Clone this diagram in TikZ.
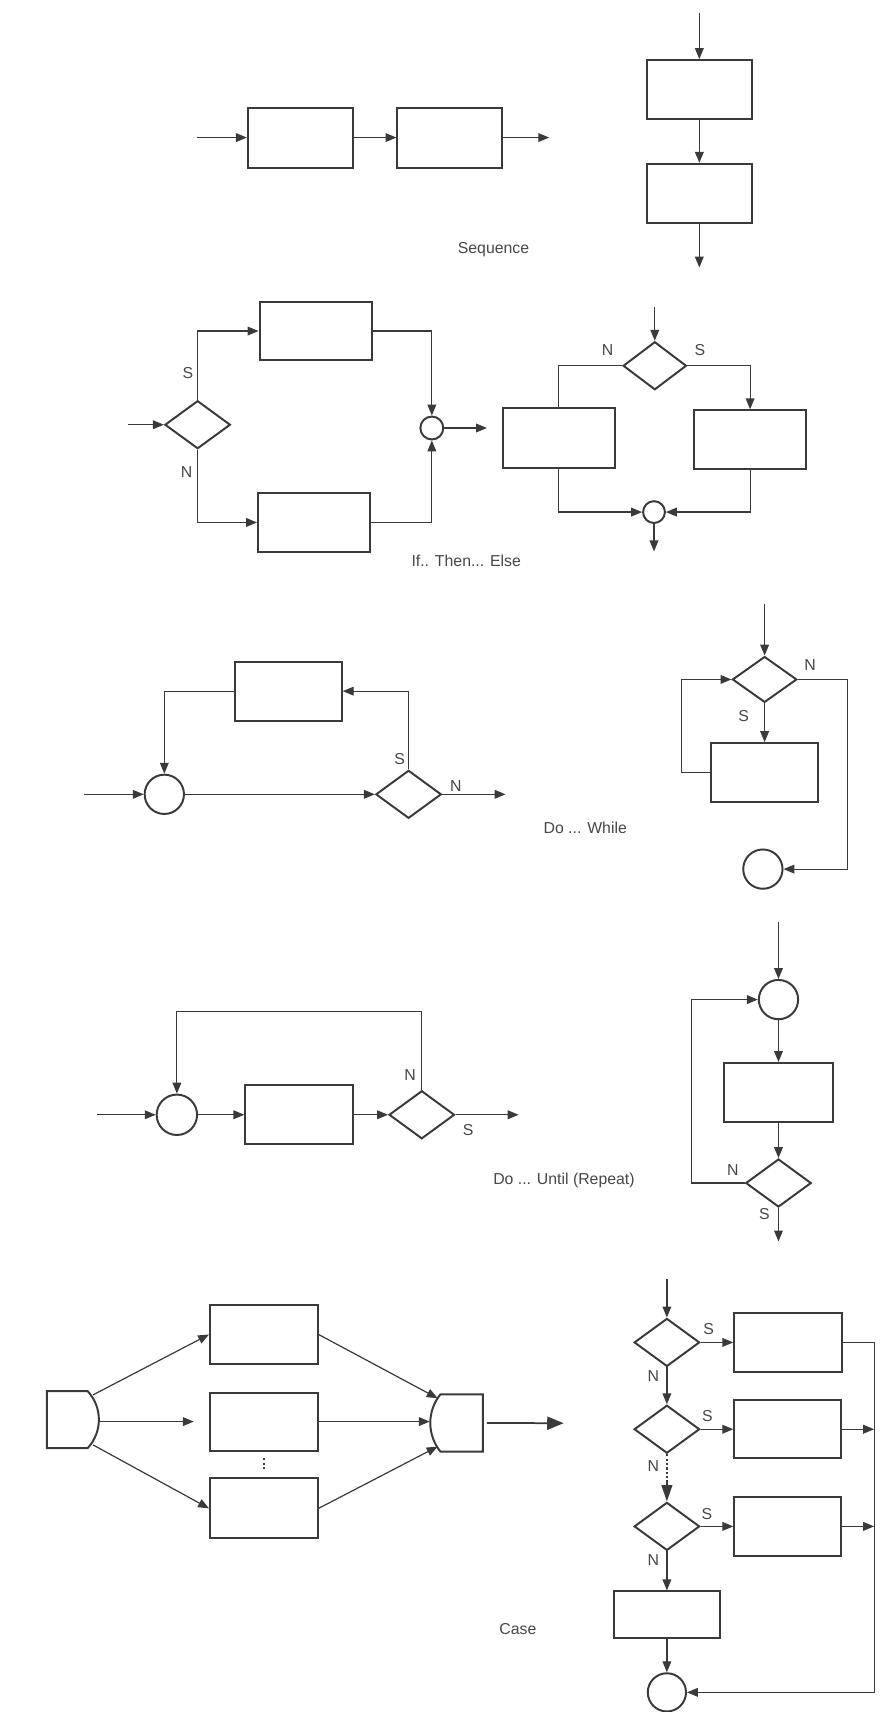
\documentclass[tikz,border=0pt]{standalone}
\usepackage{fontspec}
\setmainfont{Liberation Sans}
\usetikzlibrary{shapes.geometric,arrows.meta,calc}
\definecolor{ink}{HTML}{3A3A3A}
\definecolor{txt}{HTML}{474747}
\begin{document}
\begin{tikzpicture}[x=1pt,y=-1pt,
  every node/.style={inner sep=0pt},
  box/.style={rectangle,draw=ink,line width=1.8pt,minimum width=98pt,minimum height=54pt},
  dia/.style={diamond,draw=ink,line width=1.8pt,minimum width=60pt,minimum height=44pt},
  circ/.style={circle,draw=ink,line width=1.8pt,minimum size=36pt},
  ghost/.style={rectangle,draw=none},
  con/.style={draw=ink,line width=1.1pt,-{Triangle[length=10pt,width=8pt]}},
  plain/.style={draw=ink,line width=1.1pt},
  bigcon/.style={draw=ink,line width=1.6pt,-{Triangle[length=15pt,width=12pt]}},
  lab/.style={text=txt,font=\fontsize{14.5}{16}\selectfont}]
\useasboundingbox (0,0) rectangle (811,1568);
\fill[white] (0,0) rectangle (811,1568);

% ---------------- Sequence ----------------
\coordinate (s0) at (180,126);
\node[box,minimum width=96pt,minimum height=55pt] (s1) at (275,126) {};
\node[box,minimum width=96pt,minimum height=55pt] (s2) at (412,126) {};
\coordinate (s2o) at (503,126);
\draw[con] (s0) -- (s1.west);
\draw[con] (s1.east) -- (s2.west);
\draw[con] (s2.east) -- (s2o);
\coordinate (s3i) at (640.5,12);
\node[box,minimum width=96pt] (s3) at (640.5,82) {};
\node[box,minimum width=96pt] (s4) at (640.5,177) {};
\coordinate (s4o) at (640.5,245);
\draw[con] (s3i) -- (s3.north);
\draw[con] (s3.south) -- (s4.north);
\draw[con] (s4.south) -- (s4o);
\node[lab] (tseq) at (452,229) {Sequence};

% ---------------- If Then Else ----------------
\coordinate (i0) at (117,389);
\node[dia] (i1) at (181,389) {};
\node[box,minimum width=103pt,minimum height=53.5pt] (i2) at (289.2,303.2) {};
\node[box,minimum width=103pt,minimum height=54pt] (i3) at (287.8,478.5) {};
\node[circ,minimum size=21pt] (i4) at (395.5,392) {};
\coordinate (i4o) at (446,392);
\draw[con] (i0) -- (i1.west);
\draw[con] (i1.north) |- (i2.west);
\draw[con] (i1.south) |- (i3.west);
\draw[con] (i2.east) -| (i4.north);
\draw[con] (i3.east) -| (i4.south);
\draw[con] (i4.east) -- (i4o);
\node[lab] (iS) at (172,342) {S};
\node[lab] (iN) at (171,432) {N};

\coordinate (j0) at (599.7,281);
\node[dia,minimum width=58pt] (j1) at (599.7,335) {};
\node[box,minimum width=103pt,minimum height=55pt] (j2) at (511.8,400.8) {};
\node[box,minimum width=103pt,minimum height=54pt] (j3) at (687,402.8) {};
\node[circ,minimum size=20pt] (j4) at (599,469) {};
\coordinate (j4o) at (599,505);
\draw[con] (j0) -- (j1.north);
\draw[plain] (j1.west) -| (j2.north);
\draw[con] (j1.east) -| (j3.north);
\draw[con] (j2.south) |- (j4.west);
\draw[con] (j3.south) |- (j4.east);
\draw[con] (j4.south) -- (j4o);
\node[lab] (jN) at (556.5,321) {N};
\node[lab] (jS) at (641,321) {S};
\node[lab] (tif) at (427,514) {If.. Then... Else};

% ---------------- Do While ----------------
\coordinate (w0) at (77,727.5);
\node[circ] (w1) at (150.5,727.5) {};
\node[dia] (w2) at (374.2,727.5) {};
\node[box] (w3) at (264,633) {};
\coordinate (w2o) at (463,727.5);
\draw[con] (w0) -- (w1.west);
\draw[con] (w1.east) -- (w2.west);
\draw[con] (w2.east) -- (w2o);
\draw[con] (w2.north) |- (w3.east);
\draw[con] (w3.west) -| (w1.north);
\node[lab] (wS) at (366,695) {S};
\node[lab] (wN) at (417.6,720) {N};

\coordinate (x0) at (700.3,553);
\node[dia,minimum width=59pt,minimum height=42pt] (x1) at (700.3,622.3) {};
\node[box] (x2) at (700.3,707.6) {};
\node[circ] (x3) at (698.7,796) {};
\coordinate (xl) at (624,0);
\coordinate (xr) at (776,0);
\draw[con] (x0) -- (x1.north);
\draw[con] (x1.south) -- (x2.north);
\draw[con] (x2.west) -- (x2.west -| xl) |- (x1.west);
\draw[con] (x1.east) -- (x1.east -| xr) |- (x3.east);
\node[lab] (xN) at (742,609.4) {N};
\node[lab] (xS) at (681,656) {S};
\node[lab] (twhile) at (536,758.2) {Do ... While};

% ---------------- Do Until ----------------
\coordinate (u0) at (88.7,1021);
\node[circ,minimum size=37pt] (u1) at (162,1021) {};
\node[box,minimum width=99pt] (u2) at (274.2,1021) {};
\node[dia] (u3) at (386.3,1021) {};
\coordinate (u3o) at (475,1021);
\coordinate (ut) at (162,926.5);
\draw[con] (u0) -- (u1.west);
\draw[con] (u1.east) -- (u2.west);
\draw[con] (u2.east) -- (u3.west);
\draw[con] (u3.east) -- (u3o);
\draw[con] (u3.north) |- (ut) -- (u1.north);
\node[lab] (uN) at (375.7,984.3) {N};
\node[lab] (uS) at (428.7,1035) {S};

\coordinate (v0) at (713,844.6);
\node[circ] (v1) at (713,915.5) {};
\node[box,minimum width=99pt] (v2) at (713,1000.5) {};
\node[dia] (v3) at (713,1083.5) {};
\coordinate (v3o) at (713,1137);
\coordinate (vl) at (633.6,0);
\draw[con] (v0) -- (v1.north);
\draw[con] (v1.south) -- (v2.north);
\draw[con] (v2.south) -- (v3.north);
\draw[con] (v3.south) -- (v3o);
\draw[con] (v3.west) -- (v3.west -| vl) |- (v1.west);
\node[lab] (vN) at (671.2,1071.3) {N};
\node[lab] (vS) at (700.2,1112) {S};
\node[lab] (tuntil) at (516.5,1081.4) {Do ... Until (Repeat)};

% ---------------- Case ----------------
\node[ghost,minimum width=47.6pt,minimum height=52.4pt] (cl) at (66.7,1300.2) {};
\draw[draw=ink,line width=1.8pt] (42.9,1274) -- (80.2,1274) .. controls (94,1288.8) and (94,1311.6) .. (80.2,1326.4) -- (42.9,1326.4) -- cycle;
\node[ghost,minimum width=48.1pt,minimum height=52.5pt] (cr) at (418.1,1303.25) {};
\draw[draw=ink,line width=1.8pt] (442.2,1277) -- (403.4,1277) .. controls (391,1292.3) and (391,1314.2) .. (403.4,1329.5) -- (442.2,1329.5) -- cycle;
\coordinate (clA) at (85.3,1277.5);
\coordinate (clM) at (90.8,1302);
\coordinate (clC) at (85.3,1323.4);
\coordinate (crA) at (400.8,1280.6);
\coordinate (crM) at (393.6,1302);
\coordinate (crC) at (400.8,1324.9);
\node[box,minimum width=98.5pt] (cA) at (241.6,1222.2) {};
\node[box,minimum width=98.5pt,minimum height=53pt] (cB) at (241.6,1302) {};
\node[box,minimum width=98.5pt,minimum height=55pt] (cC) at (241.6,1381.5) {};
\draw[draw=ink,line width=1.3pt,dash pattern=on 2pt off 2.2pt] ($(cB.south)+(0,6)$) -- ($(cC.north)+(0,-5.5)$);
\draw[con] (clA) -- (cA.west);
\draw[con,shorten >=14pt] (clM) -- (cB.west);
\draw[con] (clC) -- (cC.west);
\draw[con] (cA.east) -- (crA);
\draw[con] (cB.east) -- (crM);
\draw[con] (cC.east) -- (crC);
\coordinate (cro) at (516.2,1303.5);
\draw[bigcon] ([xshift=3.5pt]cr.east) -- (cro);

\coordinate (e0) at (610.8,1171.5);
\node[dia] (e1) at (610.8,1229.5) {};
\node[box,minimum width=99pt] (r1) at (722,1229.5) {};
\node[dia] (e2) at (610.8,1309) {};
\node[box,minimum height=53pt] (r2) at (721.5,1309) {};
\coordinate (em) at (610.8,1357);
\node[dia] (e3) at (610.8,1398) {};
\node[box] (r3) at (721.5,1398) {};
\node[box,minimum width=97pt,minimum height=43pt] (r4) at (610.8,1479) {};
\node[circ,minimum size=35pt] (e4) at (610.8,1550) {};
\coordinate (rr) at (800.6,0);
\draw[con] (e0) -- (e1.north);
\draw[con] (e1.east) -- (r1.west);
\draw[con] (e1.south) -- (e2.north);
\draw[con] (e2.east) -- (r2.west);
\draw[draw=ink,line width=1.3pt,dash pattern=on 2pt off 2pt] (e2.south) -- (em);
\draw[draw=ink,line width=1.1pt,-{Triangle[length=15pt,width=10pt]}] (em) -- (e3.north);
\draw[con] (e3.east) -- (r3.west);
\draw[con] (e3.south) -- (r4.north);
\draw[con] (r4.south) -- (e4.north);
\draw[con] (r1.east) -- (r1.east -| rr) |- (e4.east);
\draw[con] (r2.east) -- (r2.east -| rr);
\draw[con] (r3.east) -- (r3.east -| rr);
\node[lab] (eS1) at (649,1217.4) {S};
\node[lab] (eS2) at (648,1296.8) {S};
\node[lab] (eS3) at (647.5,1387) {S};
\node[lab] (eN1) at (598.4,1260) {N};
\node[lab] (eN2) at (598.4,1342.6) {N};
\node[lab] (eN3) at (598.4,1429) {N};
\node[lab] (tcase) at (474.3,1492.3) {Case};
\end{tikzpicture}
\end{document}
